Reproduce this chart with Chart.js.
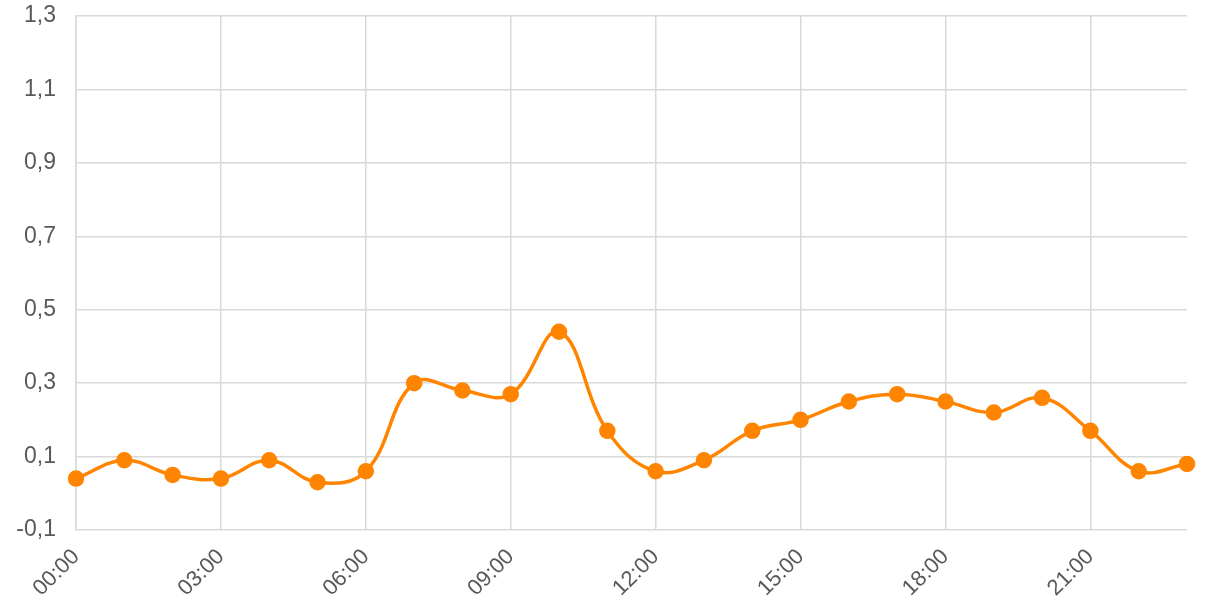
<!DOCTYPE html>
<html>
<head>
<meta charset="utf-8">
<script src="https://cdn.jsdelivr.net/npm/chart.js@4/dist/chart.umd.min.js"></script>
<style>
	html, body { margin:0; padding:0; background:#fff; }
	#grafico { width:1210px; height:605px; }
</style>
</head>
<body>
<div id="grafico"><canvas id="actDatos"></canvas></div>
<script>
//	Datos del grafico
var Horas=['00:00','01:00','02:00','03:00','04:00','05:00','06:00','07:00','08:00','09:00','10:00','11:00',
	'12:00','13:00','14:00','15:00','16:00','17:00','18:00','19:00','20:00','21:00','22:00','23:00'];
var Valores=[0.04,0.09,0.05,0.04,0.09,0.03,0.06,0.30,0.28,0.27,0.44,0.17,
	0.06,0.09,0.17,0.20,0.25,0.27,0.25,0.22,0.26,0.17,0.06,0.08];
var TicksY=[-0.1,0.1,0.3,0.5,0.7,0.9,1.1,1.3];

var ColorLinea='#FF8400';
var ColorRejilla='#D9D9D9';
var ColorTexto='#595959';

function PresentaGrafico()
{
	var ctx=document.getElementById('actDatos').getContext('2d');

	new Chart(ctx, {
		type: 'line',
		data: {
			labels: Horas,
			datasets: [{
				data: Valores,
				borderColor: ColorLinea,
				backgroundColor: ColorLinea,
				borderWidth: 3.5,
				pointRadius: 6.5,
				pointHoverRadius: 6.5,
				tension: 0.4,
				fill: false
			}]
		},
		options: {
			responsive: true,
			maintainAspectRatio: false,
			animation: false,
			layout: { padding: { top: 0, right: 23, left: 0, bottom: 0 } },
			plugins: { legend: { display: false }, tooltip: { enabled: false } },
			scales: {
				x: {
					offset: false,
					afterFit: function(axis) { axis.height=75; },
					grid: { color: ColorRejilla, lineWidth: 1.5, drawTicks: false },
					border: { display: false },
					ticks: {
						autoSkip: false,
						minRotation: 45,
						maxRotation: 45,
						padding: 14,
						color: ColorTexto,
						font: { family: 'Liberation Sans, Arial', size: 22 },
						callback: function(val, i) { return (i%3==0) ? Horas[i] : null; }
					}
				},
				y: {
					min: -0.1,
					max: 1.3,
					afterBuildTicks: function(axis) { axis.ticks=TicksY.map(function(v){ return {value:v}; }); },
					afterFit: function(axis) { axis.width=76; axis.paddingTop=16; axis.paddingBottom=0; },
					grid: { color: ColorRejilla, lineWidth: 1.5, drawTicks: false },
					border: { display: true, color: ColorRejilla, width: 1.5 },
					ticks: {
						padding: 20,
						color: ColorTexto,
						font: { family: 'Liberation Sans, Arial', size: 23 },
						callback: function(v) { return v.toFixed(1).replace('.',','); }
					}
				}
			}
		}
	});
}

PresentaGrafico();
</script>
</body>
</html>
